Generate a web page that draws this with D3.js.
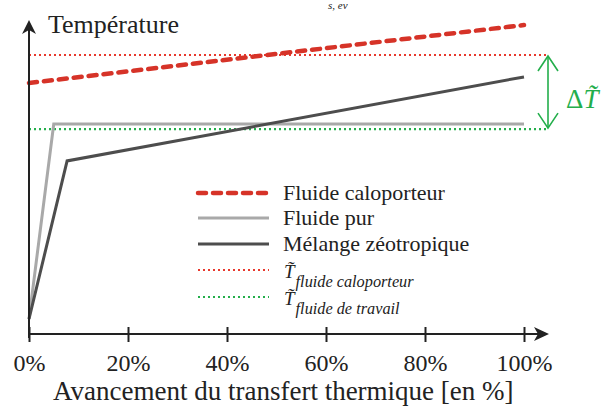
<!DOCTYPE html>
<html><head><meta charset="utf-8">
<script src="https://cdn.jsdelivr.net/npm/d3@7"></script>
<style>body{margin:0;background:#fff}svg{display:block}
text{font-family:"Liberation Serif","DejaVu Serif",serif}</style>
</head><body>
<svg id="c" width="616" height="408"></svg>
<script>
// ---- data ----
const xTicks = [0, 20, 40, 60, 80, 100];
const xTickLabels = ["0%", "20%", "40%", "60%", "80%", "100%"];
const fluideCaloporteur = [[0, 83.7], [100, 103]];
const fluidePur = [[0, 5], [5, 70], [100, 70]];
const melangeZeotropique = [[0, 5], [7.7, 57.7], [100, 85.7]];
const tMoyCaloporteur = 93;
const tMoyTravail = 68.3;
const tMoyExtent = [0, 104.8];
const legendLabels = ["Fluide caloporteur", "Fluide pur", "Mélange zéotropique"];
const legendSubs = ["fluide caloporteur", "fluide de travail"];

const svg = d3.select("#c");
const x = d3.scaleLinear().domain([0, 100]).range([29, 524]);
const y = d3.scaleLinear().domain([0, 100]).range([334, 34]);
const line = d3.line().x(d => x(d[0])).y(d => y(d[1]));

const RED = "#d63328", RED2 = "#e8382c", GREEN = "#23ae4b", GRAY = "#a9a9a9", DARK = "#4d4d4d";

// top fragment
svg.append("text").attr("x", 328).attr("y", 9).attr("font-style", "italic")
  .attr("font-size", 11).attr("fill", "#222").text("s, ev");

// dotted mean lines
svg.append("path").attr("d", line([[tMoyExtent[0], tMoyCaloporteur], [tMoyExtent[1], tMoyCaloporteur]]))
  .attr("stroke", RED2).attr("stroke-width", 2.2).attr("stroke-dasharray", "2,3").attr("fill", "none");
svg.append("path").attr("d", line([[tMoyExtent[0], tMoyTravail], [tMoyExtent[1], tMoyTravail]]))
  .attr("stroke", GREEN).attr("stroke-width", 2.2).attr("stroke-dasharray", "2,3").attr("fill", "none");

// series
svg.append("path").attr("d", line(fluidePur)).attr("stroke", GRAY).attr("stroke-width", 3).attr("fill", "none");
svg.append("path").attr("d", line(melangeZeotropique)).attr("stroke", DARK).attr("stroke-width", 3).attr("fill", "none");
svg.append("path").attr("d", line(fluideCaloporteur)).attr("stroke", RED).attr("stroke-width", 4.5)
  .attr("stroke-dasharray", "8,7").attr("stroke-linecap", "round").attr("fill", "none");

// axes
const ax = svg.append("g").attr("transform", `translate(0,${y(0)})`)
  .call(d3.axisBottom(x).tickValues(xTicks).tickFormat((d, i) => xTickLabels[i]).tickSize(0).tickPadding(20));
ax.select(".domain").remove();
ax.selectAll("text").attr("font-size", 24).attr("fill", "#222").attr("font-family", null);
ax.selectAll(".tick").append("line").attr("y1", -7).attr("y2", 8).attr("stroke", "#222").attr("stroke-width", 2);
svg.append("line").attr("x1", x(0)).attr("x2", 540).attr("y1", y(0)).attr("y2", y(0)).attr("stroke", "#222").attr("stroke-width", 2);
svg.append("path").attr("d", `M549,${y(0)} L534,${y(0) - 7} L538,${y(0)} L534,${y(0) + 7} Z`).attr("fill", "#222");
svg.append("line").attr("x1", x(0)).attr("x2", x(0)).attr("y1", 338).attr("y2", 28).attr("stroke", "#222").attr("stroke-width", 2);
svg.append("path").attr("d", `M${x(0)},20 L${x(0) - 7},34 L${x(0)},30 L${x(0) + 7},34 Z`).attr("fill", "#222");

svg.append("text").attr("x", 48).attr("y", 33).attr("font-size", 26).attr("fill", "#222").text("Température");
svg.append("text").attr("x", 53).attr("y", 400).attr("font-size", 27).attr("fill", "#222")
  .text("Avancement du transfert thermique [en %]");

// delta T arrow
const ax1 = 548, yTop = y(tMoyCaloporteur), yBot = y(tMoyTravail);
svg.append("line").attr("x1", ax1).attr("x2", ax1).attr("y1", yTop + 1).attr("y2", yBot - 1).attr("stroke", GREEN).attr("stroke-width", 1.6);
svg.append("path").attr("d", `M${ax1 - 10},${yTop + 16} L${ax1},${yTop + 1} L${ax1 + 10},${yTop + 16}`).attr("stroke", GREEN).attr("stroke-width", 1.6).attr("fill", "none");
svg.append("path").attr("d", `M${ax1 - 10},${yBot - 16} L${ax1},${yBot - 1} L${ax1 + 10},${yBot - 16}`).attr("stroke", GREEN).attr("stroke-width", 1.6).attr("fill", "none");
const dt = svg.append("text").attr("x", 566).attr("y", 108).attr("font-size", 27).attr("fill", GREEN);
dt.append("tspan").text("Δ");
dt.append("tspan").attr("font-style", "italic").text("T\u0303");

// legend
const lx0 = 198, lx1 = 269, tx = 283;
const rows = [193, 218, 244, 270, 297];
svg.append("path").attr("d", `M${lx0},${rows[0]}H${lx1}`).attr("stroke", RED).attr("stroke-width", 4.5)
  .attr("stroke-dasharray", "8,7").attr("stroke-linecap", "round");
svg.append("path").attr("d", `M${lx0},${rows[1]}H${lx1}`).attr("stroke", GRAY).attr("stroke-width", 3);
svg.append("path").attr("d", `M${lx0},${rows[2]}H${lx1}`).attr("stroke", DARK).attr("stroke-width", 3);
svg.append("path").attr("d", `M${lx0},${rows[3]}H${lx1}`).attr("stroke", RED2).attr("stroke-width", 2).attr("stroke-dasharray", "2,3");
svg.append("path").attr("d", `M${lx0},${rows[4]}H${lx1}`).attr("stroke", GREEN).attr("stroke-width", 2).attr("stroke-dasharray", "2,3");
legendLabels.forEach((t, i) => {
  svg.append("text").attr("x", tx).attr("y", rows[i] + 7).attr("font-size", 22).attr("fill", "#222").text(t);
});
legendSubs.forEach((t, i) => {
  const r = rows[3 + i];
  const g = svg.append("text").attr("x", tx + 1).attr("y", r + 8).attr("font-style", "italic").attr("fill", "#222");
  g.append("tspan").attr("font-size", 19).text("T\u0303");
  g.append("tspan").attr("font-size", 16.3).attr("dy", 9).attr("dx", 1).text(t);
});
</script>
</body></html>
